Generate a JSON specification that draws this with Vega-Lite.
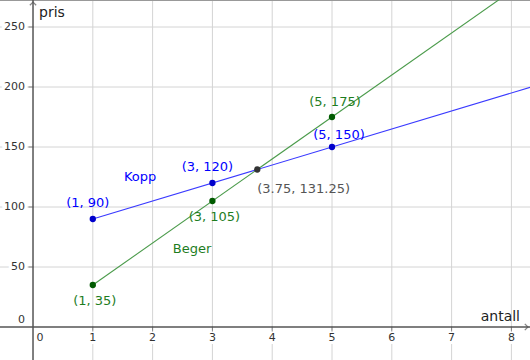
{
  "$schema": "https://vega.github.io/schema/vega-lite/v6.json",
  "width": 530,
  "height": 360,
  "padding": 0,
  "autosize": {"type": "none"},
  "background": "white",
  "config": {"view": {"stroke": null}, "text": {"font": "DejaVu Sans"}},
  "datasets": {
    "one": [{}],
    "lines": [
      {"serie": "Kopp", "x": 1, "y": 90},
      {"serie": "Kopp", "x": 9, "y": 210},
      {"serie": "Beger", "x": 1, "y": 35},
      {"serie": "Beger", "x": 8, "y": 280}
    ],
    "points": [
      {"serie": "Kopp", "x": 1, "y": 90, "label": "(1, 90)"},
      {"serie": "Kopp", "x": 3, "y": 120, "label": "(3, 120)"},
      {"serie": "Kopp", "x": 5, "y": 150, "label": "(5, 150)"},
      {"serie": "Beger", "x": 1, "y": 35, "label": "(1, 35)"},
      {"serie": "Beger", "x": 3, "y": 105, "label": "(3, 105)"},
      {"serie": "Beger", "x": 5, "y": 175, "label": "(5, 175)"},
      {"serie": "Skjæring", "x": 3.75, "y": 131.25, "label": "(3.75, 131.25)"}
    ],
    "xticks": [{"v": 0}, {"v": 1}, {"v": 2}, {"v": 3}, {"v": 4}, {"v": 5}, {"v": 6}, {"v": 7}, {"v": 8}],
    "yticks": [{"v": 0}, {"v": 50}, {"v": 100}, {"v": 150}, {"v": 200}, {"v": 250}]
  },
  "encoding": {
    "x": {"type": "quantitative", "scale": {"domain": [-0.552, 8.311], "nice": false, "zero": false}},
    "y": {"type": "quantitative", "scale": {"domain": [-27.5, 272.5], "nice": false, "zero": false}}
  },
  "layer": [
    {
      "data": {"name": "xticks"},
      "mark": {"type": "rule", "color": "#d4d4d4", "strokeWidth": 1},
      "transform": [{"filter": "datum.v > 0"}],
      "encoding": {
        "x": {"field": "v", "type": "quantitative", "axis": {"labels": false, "ticks": false, "domain": false, "grid": false, "title": null}}
      }
    },
    {
      "data": {"name": "yticks"},
      "mark": {"type": "rule", "color": "#d4d4d4", "strokeWidth": 1},
      "transform": [{"filter": "datum.v > 0"}],
      "encoding": {
        "y": {"field": "v", "type": "quantitative", "axis": {"labels": false, "ticks": false, "domain": false, "grid": false, "title": null}}
      }
    },
    {
      "data": {"name": "one"},
      "mark": {"type": "rule", "color": "#999", "strokeWidth": 2},
      "encoding": {"y": {"datum": 272.5}}
    },
    {
      "data": {"name": "xticks"},
      "transform": [{"filter": "datum.v > 0"}],
      "mark": {"type": "text", "fontSize": 11, "dy": 11, "color": "#333", "stroke": "white", "strokeWidth": 6, "strokeOpacity": 1, "baseline": "middle"},
      "encoding": {"x": {"field": "v", "type": "quantitative"}, "y": {"datum": 0}, "text": {"field": "v", "type": "quantitative"}}
    },
    {
      "data": {"name": "yticks"},
      "transform": [{"filter": "datum.v > 0"}],
      "mark": {"type": "text", "fontSize": 11, "dx": -8, "align": "right", "color": "#333", "stroke": "white", "strokeWidth": 6, "baseline": "middle"},
      "encoding": {"y": {"field": "v", "type": "quantitative"}, "x": {"datum": 0}, "text": {"field": "v", "type": "quantitative"}}
    },
    {
      "data": {"name": "yticks"},
      "transform": [{"filter": "datum.v > 0"}],
      "mark": {"type": "text", "fontSize": 11, "dx": -8, "align": "right", "color": "#333", "baseline": "middle"},
      "encoding": {"y": {"field": "v", "type": "quantitative"}, "x": {"datum": 0}, "text": {"field": "v", "type": "quantitative"}}
    },
    {
      "data": {"name": "xticks"},
      "transform": [{"filter": "datum.v > 0"}],
      "mark": {"type": "text", "fontSize": 11, "dy": 11, "color": "#333", "baseline": "middle"},
      "encoding": {"x": {"field": "v", "type": "quantitative"}, "y": {"datum": 0}, "text": {"field": "v", "type": "quantitative"}}
    },
    {
      "data": {"name": "one"},
      "mark": {"type": "text", "fontSize": 11, "dx": 7, "dy": 11, "color": "#333", "baseline": "middle", "text": "0"},
      "encoding": {"x": {"datum": 0}, "y": {"datum": 0}}
    },
    {
      "data": {"name": "one"},
      "mark": {"type": "text", "fontSize": 11, "dx": -8, "dy": -7, "align": "right", "color": "#333", "baseline": "middle", "text": "0"},
      "encoding": {"x": {"datum": 0}, "y": {"datum": 0}}
    },
    {
      "data": {"name": "one"},
      "mark": {"type": "rule", "color": "#555", "strokeWidth": 1.5},
      "encoding": {"x": {"datum": 0}}
    },
    {
      "data": {"name": "one"},
      "mark": {"type": "rule", "color": "#555", "strokeWidth": 1.5},
      "encoding": {"y": {"datum": 0}}
    },
    {
      "data": {"name": "yticks"},
      "transform": [{"filter": "datum.v > 0"}],
      "mark": {"type": "tick", "orient": "horizontal", "size": 5, "color": "#555", "thickness": 1, "xOffset": -2},
      "encoding": {"y": {"field": "v", "type": "quantitative"}, "x": {"datum": 0}}
    },
    {
      "data": {"name": "xticks"},
      "transform": [{"filter": "datum.v > 0"}],
      "mark": {"type": "tick", "orient": "vertical", "size": 5, "color": "#555", "thickness": 1, "yOffset": 2},
      "encoding": {"x": {"field": "v", "type": "quantitative"}, "y": {"datum": 0}}
    },
    {
      "data": {"name": "one"},
      "mark": {"type": "point", "shape": "M-1,0.7L0,-0.3L1,0.7", "size": 40, "filled": false, "stroke": "#555", "strokeWidth": 1.3, "yOffset": 3},
      "encoding": {"x": {"datum": 0}, "y": {"datum": 272.5}}
    },
    {
      "data": {"name": "one"},
      "mark": {"type": "point", "shape": "M-0.7,-1L0.3,0L-0.7,1", "size": 40, "filled": false, "stroke": "#555", "strokeWidth": 1.3, "xOffset": -3},
      "encoding": {"x": {"datum": 8.311}, "y": {"datum": 0}}
    },
    {
      "data": {"name": "one"},
      "mark": {"type": "text", "fontSize": 14, "align": "left", "baseline": "middle", "color": "#222", "dx": 6, "dy": 13, "text": "pris"},
      "encoding": {"x": {"datum": 0}, "y": {"datum": 272.5}}
    },
    {
      "data": {"name": "one"},
      "mark": {"type": "text", "fontSize": 14, "align": "right", "baseline": "middle", "color": "#222", "dx": -10, "dy": -10, "text": "antall"},
      "encoding": {"x": {"datum": 8.311}, "y": {"datum": 0}}
    },
    {
      "data": {"name": "lines"},
      "mark": {"type": "line", "clip": true, "strokeWidth": 1.1},
      "encoding": {
        "x": {"field": "x", "type": "quantitative"},
        "y": {"field": "y", "type": "quantitative"},
        "detail": {"field": "serie"},
        "color": {"field": "serie", "type": "nominal", "scale": {"domain": ["Kopp", "Beger"], "range": ["#3a3aff", "#4b9b4b"]}, "legend": null}
      }
    },
    {
      "data": {"name": "points"},
      "mark": {"type": "point", "filled": true, "size": 40, "opacity": 1},
      "encoding": {
        "x": {"field": "x", "type": "quantitative"},
        "y": {"field": "y", "type": "quantitative"},
        "fill": {"field": "serie", "type": "nominal", "scale": {"domain": ["Kopp", "Beger", "Skjæring"], "range": ["#0000cc", "#005a00", "#333333"]}, "legend": null}
      }
    },
    {
      "data": {"name": "points"},
      "transform": [{"filter": "datum.label == '(1, 90)' || datum.label == '(3, 120)'"}],
      "mark": {"type": "text", "fontSize": 13, "color": "#0000ff", "dx": -5, "dy": -16, "baseline": "middle"},
      "encoding": {"x": {"field": "x", "type": "quantitative"}, "y": {"field": "y", "type": "quantitative"}, "text": {"field": "label"}}
    },
    {
      "data": {"name": "points"},
      "transform": [{"filter": "datum.label == '(5, 150)'"}],
      "mark": {"type": "text", "fontSize": 13, "color": "#0000ff", "dx": 7, "dy": -12, "baseline": "middle"},
      "encoding": {"x": {"field": "x", "type": "quantitative"}, "y": {"field": "y", "type": "quantitative"}, "text": {"field": "label"}}
    },
    {
      "data": {"name": "points"},
      "transform": [{"filter": "datum.label == '(5, 175)'"}],
      "mark": {"type": "text", "fontSize": 13, "color": "#1e7d1e", "dx": 3, "dy": -15, "baseline": "middle"},
      "encoding": {"x": {"field": "x", "type": "quantitative"}, "y": {"field": "y", "type": "quantitative"}, "text": {"field": "label"}}
    },
    {
      "data": {"name": "points"},
      "transform": [{"filter": "datum.label == '(3, 105)' || datum.label == '(1, 35)'"}],
      "mark": {"type": "text", "fontSize": 13, "color": "#1e7d1e", "dx": 2, "dy": 16, "baseline": "middle"},
      "encoding": {"x": {"field": "x", "type": "quantitative"}, "y": {"field": "y", "type": "quantitative"}, "text": {"field": "label"}}
    },
    {
      "data": {"name": "points"},
      "transform": [{"filter": "datum.label == '(3.75, 131.25)'"}],
      "mark": {"type": "text", "fontSize": 13, "color": "#555555", "align": "left", "dx": 0, "dy": 19, "baseline": "middle"},
      "encoding": {"x": {"field": "x", "type": "quantitative"}, "y": {"field": "y", "type": "quantitative"}, "text": {"field": "label"}}
    },
    {
      "data": {"name": "one"},
      "mark": {"type": "text", "fontSize": 13, "color": "#0000ff", "baseline": "middle", "text": "Kopp"},
      "encoding": {"x": {"datum": 1.79}, "y": {"datum": 125}}
    },
    {
      "data": {"name": "one"},
      "mark": {"type": "text", "fontSize": 13, "color": "#1e7d1e", "baseline": "middle", "text": "Beger"},
      "encoding": {"x": {"datum": 2.66}, "y": {"datum": 65}}
    }
  ]
}
